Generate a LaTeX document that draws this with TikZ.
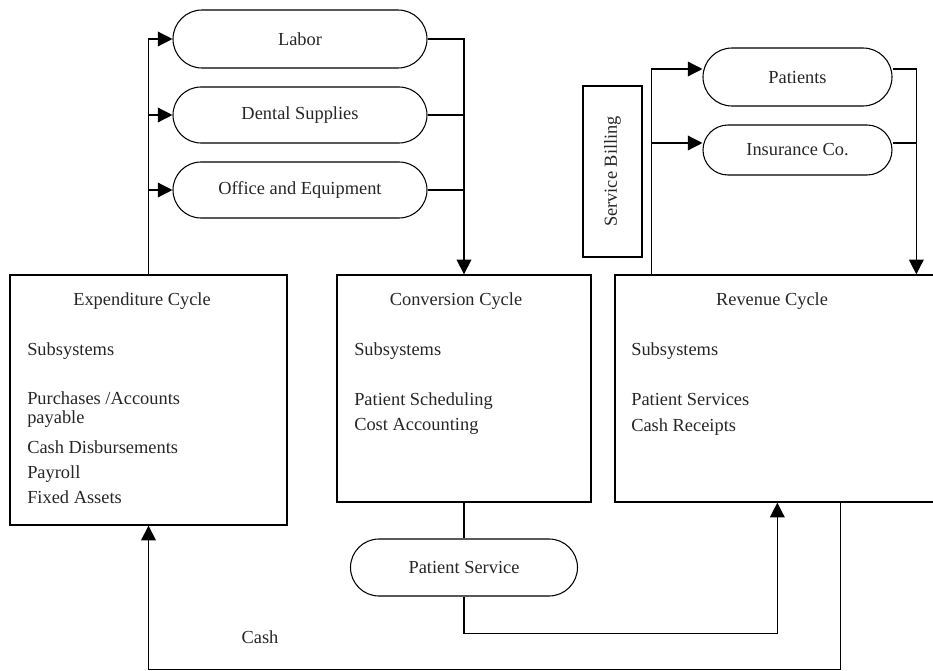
\documentclass[tikz,border=0pt]{standalone}
\usepackage{fontspec}
\setmainfont{Liberation Serif}
\usetikzlibrary{shapes.misc,arrows.meta}
\begin{document}
\begin{tikzpicture}[x=0.75pt,y=-0.75pt,
  every node/.style={font=\fontsize{13.8}{16}\selectfont, text=black!85},
  pill/.style={draw, rounded rectangle, line width=0.8pt, inner sep=0pt, minimum width=190.5pt},
  cyclebox/.style={draw, rectangle, line width=1pt, inner sep=0pt},
  conn/.style={line width=1pt},
  arr/.style={conn, -{Triangle[length=11pt,width=11pt]}},
  txt/.style={anchor=base west, inner sep=0pt},
  ttl/.style={anchor=base, inner sep=0pt}]
\useasboundingbox (0,0) rectangle (933,671);
\clip (0,0) rectangle (933,671);

% pills
\node[pill, minimum height=43.5pt] (labor) at (300,39) {Labor};
\node[pill, minimum height=42pt] (dental) at (300,115) {Dental Supplies};
\node[pill, minimum height=42pt] (office) at (300,190) {Office and Equipment};
\node[pill, minimum width=141.75pt, minimum height=43.5pt] (patients) at (797.5,77) {Patients};
\node[pill, minimum width=141.75pt, minimum height=37.5pt] (insurance) at (797.5,150) {Insurance Co.};
\node[pill, minimum width=170.25pt, minimum height=42.75pt] (pserv) at (464,567.5) {Patient Service};

% boxes
\node[cyclebox, minimum width=207.75pt, minimum height=187.5pt] (exp) at (148.5,400) {};
\node[cyclebox, minimum width=190.5pt, minimum height=170.25pt] (conv) at (464,388.5) {};
\node[cyclebox, minimum width=251.25pt, minimum height=170.25pt] (rev) at (782.5,388.5) {};
\node[cyclebox, minimum width=44.25pt, minimum height=128.25pt] (billing) at (612.5,171.5) {};
\node[rotate=90, inner sep=0pt] (billingtxt) at (billing.center) {Service Billing};

% texts in expenditure
\node[ttl] (expt) at (142,305) {Expenditure Cycle};
\node[txt] (exps) at (27,355) {Subsystems};
\node[txt] (exp1) at (27,404) {Purchases /Accounts};
\node[txt] (exp2) at (27,423) {payable};
\node[txt] (exp3) at (27,453) {Cash Disbursements};
\node[txt] (exp4) at (27,478) {Payroll};
\node[txt] (exp5) at (27,503) {Fixed Assets};

% texts in conversion
\node[ttl] (convt) at (456,305) {Conversion Cycle};
\node[txt] (convs) at (354,355) {Subsystems};
\node[txt] (conv1) at (354,405) {Patient Scheduling};
\node[txt] (conv2) at (354,430) {Cost Accounting};

% texts in revenue
\node[ttl] (revt) at (772,305) {Revenue Cycle};
\node[txt] (revs) at (631,355) {Subsystems};
\node[txt] (rev1) at (631,405) {Patient Services};
\node[txt] (rev2) at (631,431) {Cash Receipts};

\node (cash) at (260,637) {Cash};

% helper coordinates on node borders
\coordinate (revTL) at ([xshift=27.75pt]rev.north west);
\coordinate (revTR) at ([xshift=226.5pt]rev.north west);
\coordinate (revBin) at ([xshift=122.25pt]rev.south west);
\coordinate (revBout) at ([xshift=169.5pt]rev.south west);
\coordinate (patW) at ([yshift=6pt]patients.west);
\coordinate (patE) at ([yshift=6pt]patients.east);
\coordinate (insW) at ([yshift=5.25pt]insurance.west);
\coordinate (insE) at ([yshift=5.25pt]insurance.east);

% connectors: expenditure to resources
\draw[arr] (exp.north) |- (labor.west);
\draw[arr] (exp.north |- dental.west) -- (dental.west);
\draw[arr] (exp.north |- office.west) -- (office.west);
% resources to conversion
\draw[arr] (labor.east) -| (conv.north);
\draw[conn] (dental.east) -- (dental.east -| conv.north);
\draw[conn] (office.east) -- (office.east -| conv.north);
% revenue to patients / insurance
\draw[arr] (revTL) |- (patW);
\draw[arr] (revTL |- insW) -- (insW);
\draw[arr] (patE) -| (revTR);
\draw[conn] (insE) -- (insE -| revTR);
% conversion to patient service to revenue
\draw[conn] (conv.south) -- (pserv.north);
\draw[arr] (pserv.south) -- ++(0,37) -| (revBin);
% revenue to expenditure (cash)
\draw[arr] (revBout) -- ++(0,167) -| (exp.south);
\end{tikzpicture}
\end{document}
